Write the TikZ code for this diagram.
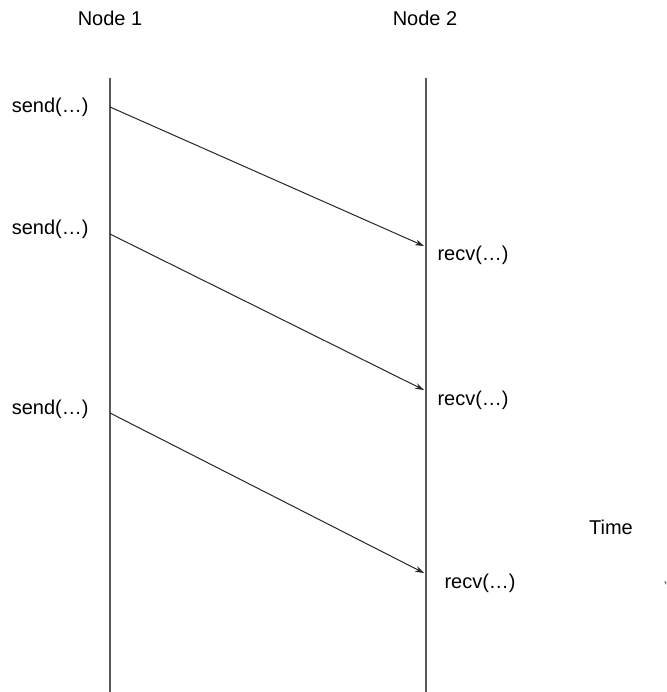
\documentclass[tikz,border=0pt]{standalone}
\usepackage{fontspec}
\setmainfont{Liberation Sans}
\usetikzlibrary{arrows.meta,positioning}
\begin{document}
\begin{tikzpicture}[x=1pt,y=-1pt,font=\fontsize{20}{24}\selectfont]
    \useasboundingbox (0,0) rectangle (666,692);
    \clip (0,0) rectangle (666,692);
    \node (node1) at (110,18) {Node 1};
    \node (node2) at (425,18) {Node 2};
    % the two time lines
    \coordinate (top1) at (110,78);
    \coordinate (top2) at (426,78);
    \draw[line width=1.4pt,black!65] (top1) -- (top1 |- 0,692);
    \draw[line width=1.4pt,black!65] (top2) -- (top2 |- 0,692);

    \foreach \i/\s/\r in {1/107/246, 2/234/390, 3/413/573} {
        \coordinate (snd\i) at (110,\s);
        \coordinate (rcv\i) at (424,\r);
        \draw[line width=1pt,black!85,-{Stealth[length=9pt,width=6pt]}] (snd\i) -- (rcv\i);
    }
    \node[anchor=east] (s1) at (92,107) {send(…)};
    \node[anchor=east] (s2) at (92,229) {send(…)};
    \node[anchor=east] (s3) at (92,409) {send(…)};
    \node[anchor=west] (r1) at (434,255) {recv(…)};
    \node[anchor=west] (r2) at (434,400) {recv(…)};
    \node[anchor=west] (r3) at (441,583) {recv(…)};

    \node (time) at (611,527) {Time};
    \coordinate (tstart) at (668.5,540);
    \draw[line width=1pt,black!85,-{Stealth[length=9pt,width=8pt]}] (tstart) -- ++(0,50);
\end{tikzpicture}
\end{document}
